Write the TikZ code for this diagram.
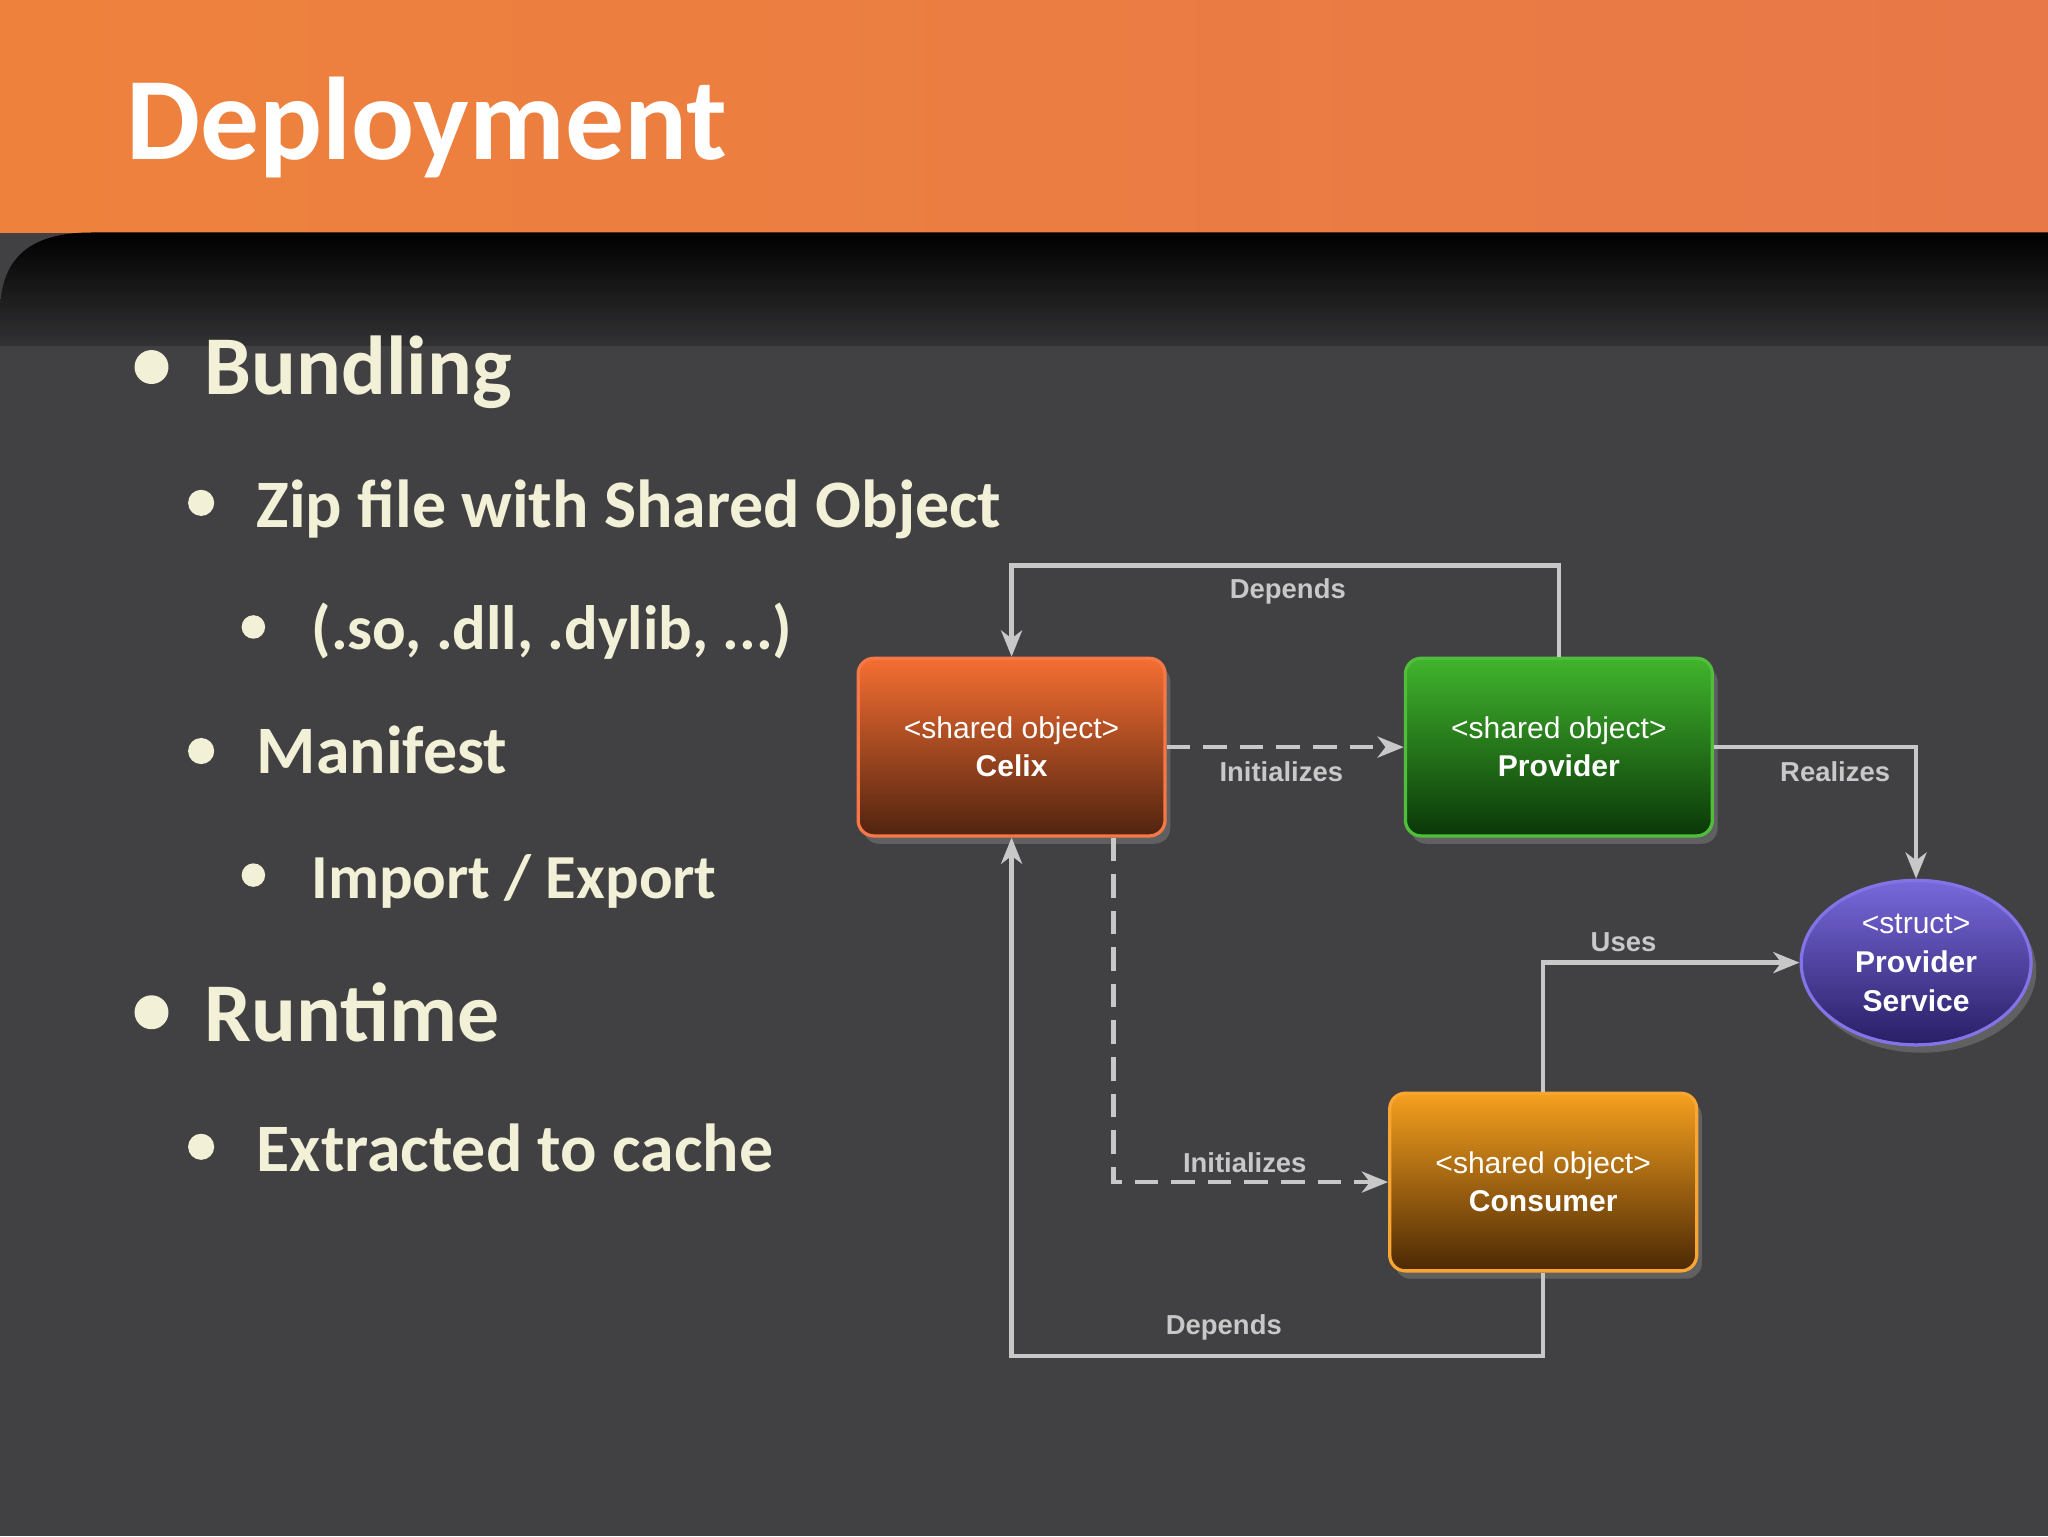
\documentclass[tikz,border=0pt]{standalone}
\usepackage{fontspec}
\setmainfont{Carlito}
\newfontfamily\lib{Liberation Sans}
\usetikzlibrary{arrows.meta,shapes.geometric,shadows}
\definecolor{bg}{HTML}{414043}
\definecolor{cream}{HTML}{F2F0D6}
\definecolor{conn}{HTML}{C8C8C8}
\begin{document}
\begin{tikzpicture}[x=1pt,y=-1pt,
  box/.style={rectangle,rounded corners=12pt,minimum width=235pt,minimum height=136pt,line width=2.5pt,align=center,text=white,font=\lib\fontsize{23}{29}\selectfont,drop shadow={opacity=0.5,shadow xshift=4pt,shadow yshift=-6pt}},
  link/.style={draw=conn,line width=3.5pt,-{Stealth[length=20pt,width=16pt,inset=6pt]}},
  dlink/.style={link,dash pattern=on 18pt off 10pt},
  lbl/.style={text=conn,font=\lib\bfseries\fontsize{21}{25}\selectfont},
  big/.style={anchor=base west,text=cream,font=\bfseries\fontsize{64}{70}\selectfont},
  mid/.style={anchor=base west,text=cream,font=\bfseries\fontsize{52}{60}\selectfont},
  sml/.style={anchor=base west,text=cream,font=\bfseries\fontsize{48}{56}\selectfont}]
\useasboundingbox (0,0) rectangle (1568,1176);
\fill[bg] (0,0) rectangle (1568,1176);
\shade[left color={rgb,255:red,238;green,130;blue,60},right color={rgb,255:red,232;green,120;blue,72}] (0,0) rectangle (1568,178);
\shade[top color=black,bottom color={rgb,255:red,50;green,50;blue,52}] (0,265) -- (0,240) .. controls (0,200) and (20,178) .. (70,178) -- (1568,178) -- (1568,265) -- cycle;
\node[anchor=base west,text=white,font=\bfseries\fontsize{90}{100}\selectfont] (title) at (93,122) {Deployment};
\fill[cream] (116,281) circle (13);
\node[big] (b1) at (153,302) {Bundling};
\fill[cream] (154,385) circle (10);
\node[mid] (b2) at (193,404) {Zip file with Shared Object};
\fill[cream] (194,480) circle (9);
\node[sml] (b3) at (235,497) {(.so, .dll, .dylib, ...)};
\fill[cream] (154,575) circle (10);
\node[mid] (b4) at (193,592) {Manifest};
\fill[cream] (194,670) circle (9);
\node[sml] (b5) at (235,688) {Import / Export};
\fill[cream] (116,775) circle (13);
\node[big] (b6) at (153,797) {Runtime};
\fill[cream] (154,878) circle (10);
\node[mid] (b7) at (193,897) {Extracted to cache};

\node[box,draw={rgb,255:red,245;green,120;blue,70},top color={rgb,255:red,245;green,110;blue,50},bottom color={rgb,255:red,80;green,35;blue,15}] (celix) at (774.5,572) {<shared object>\\\textbf{Celix}};
\node[box,draw={rgb,255:red,80;green,190;blue,60},top color={rgb,255:red,65;green,180;blue,45},bottom color={rgb,255:red,10;green,55;blue,8}] (prov) at (1193.5,572) {<shared object>\\\textbf{Provider}};
\node[box,draw={rgb,255:red,248;green,165;blue,50},top color={rgb,255:red,245;green,160;blue,30},bottom color={rgb,255:red,75;green,40;blue,5}] (cons) at (1181.5,905) {<shared object>\\\textbf{Consumer}};
\node[ellipse,minimum width=176pt,minimum height=126pt,inner sep=0pt,line width=2.5pt,draw={rgb,255:red,130;green,115;blue,230},top color={rgb,255:red,120;green,105;blue,220},bottom color={rgb,255:red,40;green,30;blue,100},align=center,text=white,font=\lib\fontsize{23}{30}\selectfont,drop shadow={opacity=0.5,shadow xshift=4pt,shadow yshift=-6pt}] (svc) at (1467,737) {<struct>\\\textbf{Provider}\\\textbf{Service}};

\draw[link] (prov.north) -- ++(0,-70) -| (celix.north);
\node[lbl] (l1) at (986,453) {Depends};
\draw[dlink] (celix.east) -- (prov.west);
\node[lbl] (l2) at (981,591) {Initializes};
\draw[link] (prov.east) -| (svc.north);
\node[lbl] (l3) at (1405,591) {Realizes};
\draw[link] (cons.north) |- (svc.west);
\node[lbl] (l4) at (1243,721) {Uses};
\draw[dlink] ([xshift=78pt]celix.south) |- (cons.west);
\node[lbl] (l5) at (953,890) {Initializes};
\draw[link] (cons.south) -- ++(0,64) -| (celix.south);
\node[lbl] (l6) at (937,1016) {Depends};
\end{tikzpicture}
\end{document}
